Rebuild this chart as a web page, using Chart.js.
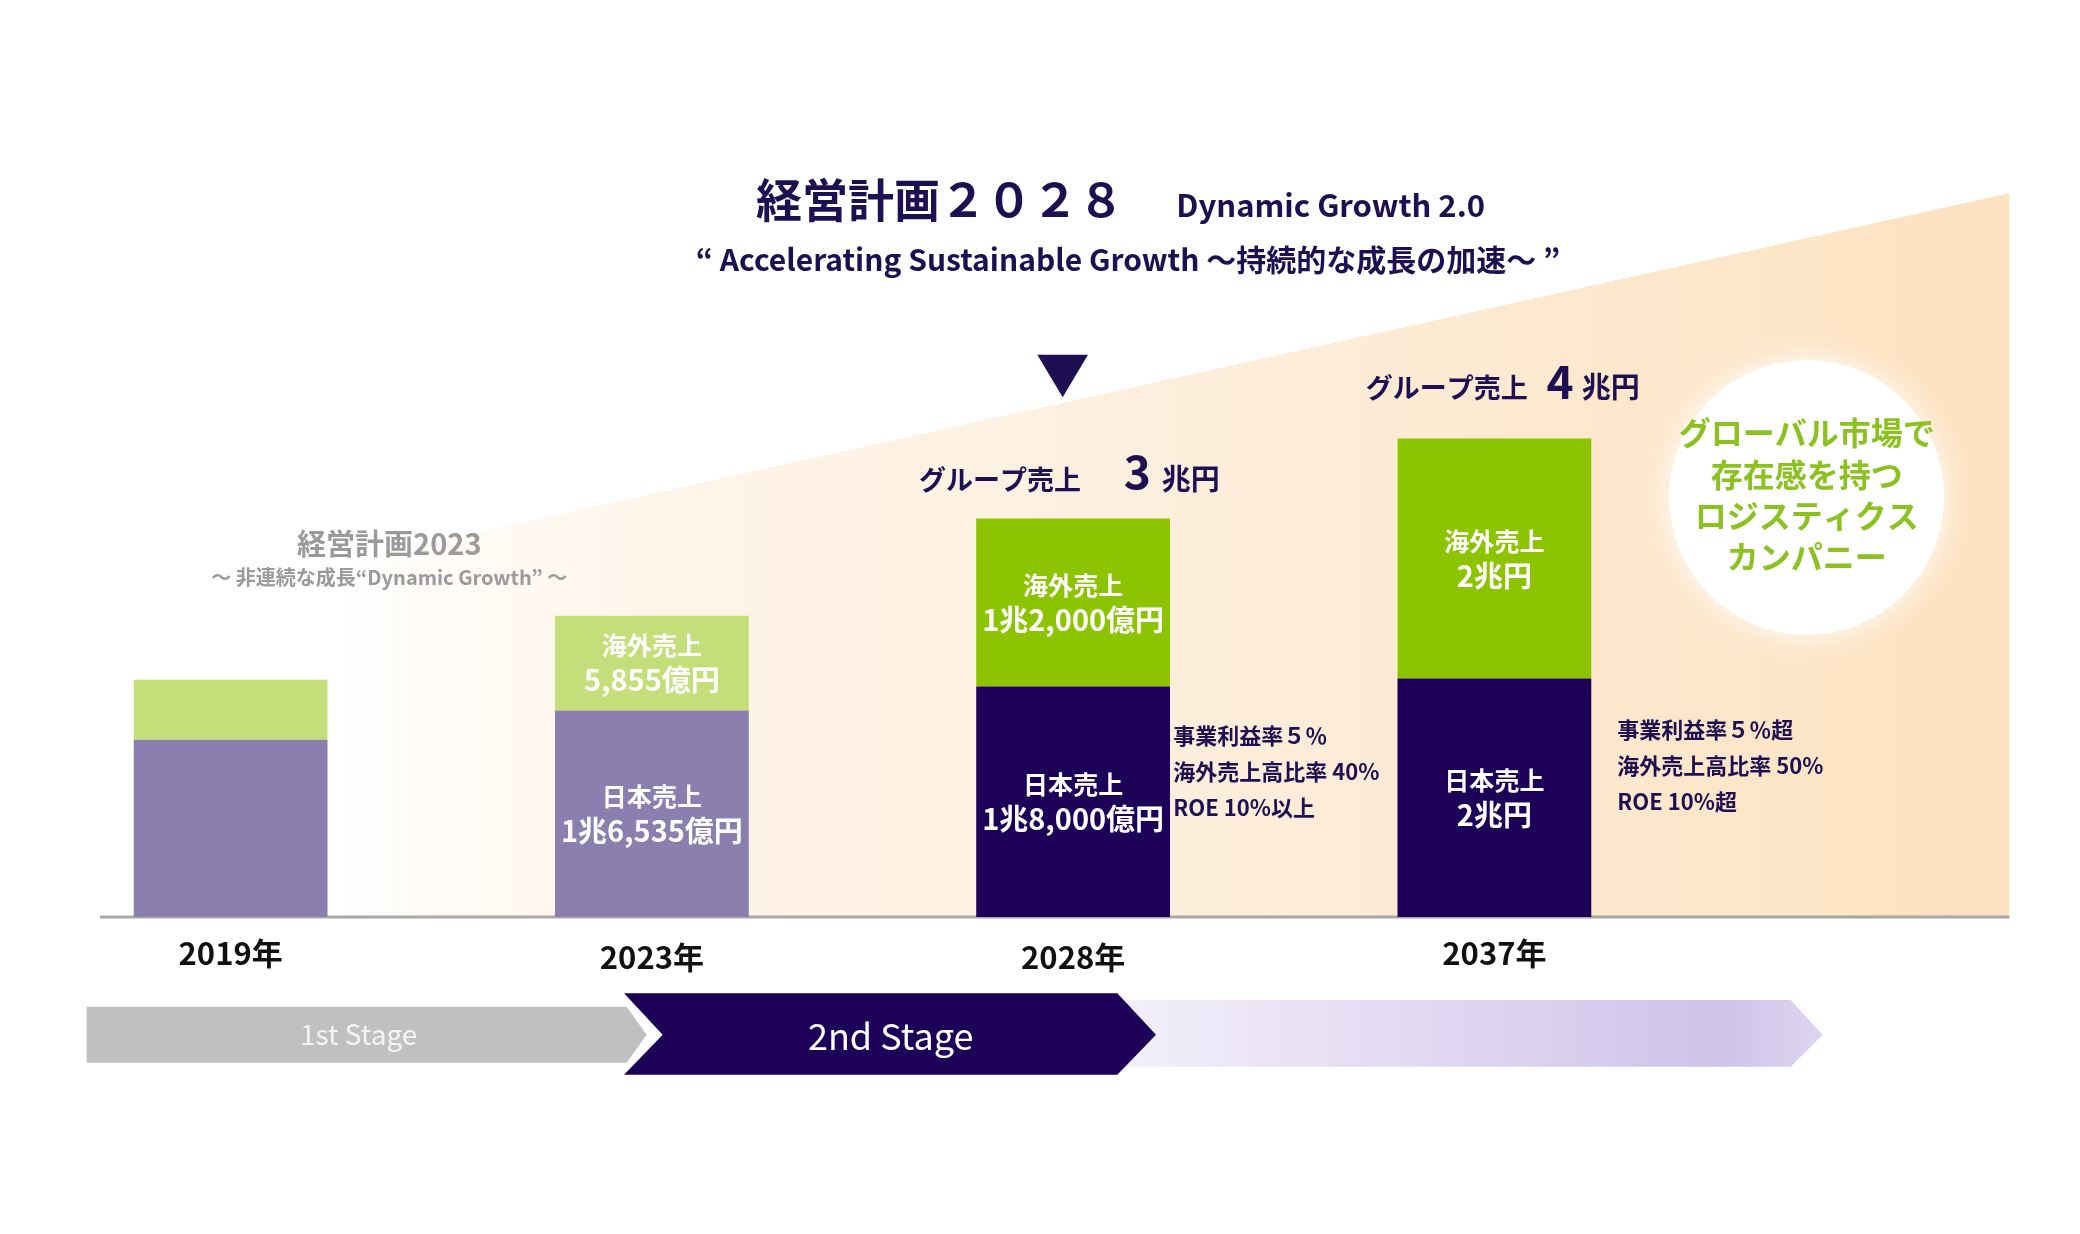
<!DOCTYPE html>
<html>
<head>
<meta charset="utf-8">
<script src="https://cdn.jsdelivr.net/npm/chart.js@4/dist/chart.umd.min.js"></script>
<style>
  body { margin: 0; background: #fff; }
  canvas { display: block; }
</style>
</head>
<body>
<canvas id="plan" width="2080" height="1234"></canvas>
<script>
// schematic bar heights (drawing units)
var years = ['2019年', '2023年', '2028年', '2037年'];
var japanHeights = [133, 155, 173, 179];
var overseasHeights = [45, 71, 126, 180];
var japanLabels = [[], ['日本売上', '1兆6,535億円'], ['日本売上', '1兆8,000億円'], ['日本売上', '2兆円']];
var overseasLabels = [[], ['海外売上', '5,855億円'], ['海外売上', '1兆2,000億円'], ['海外売上', '2兆円']];
var japanColors = ['#8a7fae', '#8a7fae', '#1d0058', '#1d0058'];
var overseasColors = ['#c4df79', '#c4df79', '#8cc402', '#8cc402'];

var K = 4 / 3; // reference drawn at 1560 wide, canvas is 2080
function p(v) { return v * K; }
var JP = '"Noto Sans CJK JP", "Noto Sans", sans-serif';

function txt(ctx, s, x, y, size, color, weight, align) {
    ctx.font = (weight || 'bold') + ' ' + size + 'px ' + JP;
    ctx.fillStyle = color;
    ctx.textAlign = align || 'center';
    ctx.textBaseline = 'middle';
    ctx.fillText(s, x, y);
}

var decor = {
    id: 'decor',
    beforeDatasetsDraw: function(chart) {
        var ctx = chart.ctx;
        ctx.save();
        // growth wedge
        var g = ctx.createLinearGradient(p(250), 0, p(1507), 0);
        g.addColorStop(0, 'rgba(253,229,198,0)');
        g.addColorStop(0.4, '#fdf1e2');
        g.addColorStop(1, '#fde2c0');
        ctx.fillStyle = g;
        ctx.beginPath();
        ctx.moveTo(p(75), p(462));
        ctx.lineTo(p(1507), p(145));
        ctx.lineTo(p(1507), p(688));
        ctx.lineTo(p(75), p(688));
        ctx.closePath();
        ctx.fill();
        // white circle
        ctx.shadowColor = 'rgba(255,255,255,1)';
        ctx.shadowBlur = 30;
        ctx.fillStyle = '#fff';
        ctx.beginPath();
        ctx.arc(p(1355), p(373), p(103), 0, Math.PI * 2);
        ctx.fill();
        ctx.shadowBlur = 0;
        // baseline
        ctx.strokeStyle = '#a8a8a8';
        ctx.lineWidth = 3;
        ctx.beginPath();
        ctx.moveTo(p(75), chart.chartArea.bottom);
        ctx.lineTo(p(1507), chart.chartArea.bottom);
        ctx.stroke();
        ctx.restore();
    },
    afterDatasetsDraw: function(chart) {
        var ctx = chart.ctx;
        ctx.save();
        var sets = [[0, japanLabels], [1, overseasLabels]];
        sets.forEach(function(s) {
            chart.getDatasetMeta(s[0]).data.forEach(function(bar, i) {
                var lines = s[1][i];
                var mid = (bar.y + bar.base) / 2;
                lines.forEach(function(l, j) {
                    txt(ctx, l, bar.x, mid + (j - (lines.length - 1) / 2) * p(26), j ? 29 : 25, '#fff');
                });
            });
        });
        // year labels
        chart.getDatasetMeta(0).data.forEach(function(bar, i) {
            txt(ctx, years[i], bar.x, p(715) + (i % 3 ? 4 : 0), 31, '#111');
        });
        // titles
        txt(ctx, '経営計画２０２８', p(705), p(150), 46, '#1d0f52');
        txt(ctx, 'Dynamic Growth 2.0', p(998), p(154), 31, '#1d0f52');
        txt(ctx, '“ Accelerating Sustainable Growth ～持続的な成長の加速～ ”', p(846), p(195), 30, '#1d0f52');
        txt(ctx, '経営計画2023', p(292), p(408), 29, '#9a9a9a');
        txt(ctx, '～ 非連続な成長“Dynamic Growth” ～', p(292), p(433), 20, '#9a9a9a');
        // marker
        ctx.fillStyle = '#1d0f52';
        ctx.beginPath();
        ctx.moveTo(p(778), p(266));
        ctx.lineTo(p(816), p(266));
        ctx.lineTo(p(797), p(298));
        ctx.closePath();
        ctx.fill();
        txt(ctx, 'グループ売上', p(750), p(360), 27, '#1d0f52');
        txt(ctx, '3', p(853), p(354), 46, '#1d0f52');
        txt(ctx, '兆円', p(893), p(359), 29, '#1d0f52');
        txt(ctx, 'グループ売上', p(1085), p(291), 27, '#1d0f52');
        txt(ctx, '4', p(1170), p(286), 46, '#1d0f52');
        txt(ctx, '兆円', p(1208), p(290), 29, '#1d0f52');
        ['事業利益率５％', '海外売上高比率 40%', 'ROE 10%以上'].forEach(function(l, j) {
            txt(ctx, l, p(880), p(552 + j * 27), 22, '#1d0f52', 'bold', 'left');
        });
        ['事業利益率５％超', '海外売上高比率 50%', 'ROE 10%超'].forEach(function(l, j) {
            txt(ctx, l, p(1213), p(547 + j * 27), 22, '#1d0f52', 'bold', 'left');
        });
        ['グローバル市場で', '存在感を持つ', 'ロジスティクス', 'カンパニー'].forEach(function(l, j) {
            txt(ctx, l, p(1355), p(325 + j * 31), 32, '#8cc21f');
        });
        // stage arrows
        ctx.fillStyle = '#c0c0c0';
        ctx.beginPath();
        ctx.moveTo(p(65), p(755)); ctx.lineTo(p(470), p(755)); ctx.lineTo(p(485), p(776));
        ctx.lineTo(p(470), p(797)); ctx.lineTo(p(65), p(797)); ctx.closePath(); ctx.fill();
        var g2 = ctx.createLinearGradient(p(845), 0, p(1367), 0);
        g2.addColorStop(0, '#f3effa');
        g2.addColorStop(0.85, '#cfc3ea');
        g2.addColorStop(1, '#ddd5f0');
        ctx.fillStyle = g2;
        ctx.beginPath();
        ctx.moveTo(p(840), p(750)); ctx.lineTo(p(1343), p(750)); ctx.lineTo(p(1367), p(776));
        ctx.lineTo(p(1343), p(800)); ctx.lineTo(p(840), p(800)); ctx.lineTo(p(860), p(776));
        ctx.closePath(); ctx.fill();
        ctx.fillStyle = '#1d0058';
        ctx.beginPath();
        ctx.moveTo(p(468), p(745)); ctx.lineTo(p(838), p(745)); ctx.lineTo(p(867), p(776));
        ctx.lineTo(p(838), p(806)); ctx.lineTo(p(468), p(806)); ctx.lineTo(p(497), p(776));
        ctx.closePath(); ctx.fill();
        txt(ctx, '1st Stage', p(269), p(776), 28, '#f4f4f4', 'normal');
        txt(ctx, '2nd Stage', p(668), p(777), 36, '#fff', 'normal');
        ctx.restore();
    }
};

var ctx = document.getElementById('plan').getContext('2d');
var chart = new Chart(ctx, {
    type: 'bar',
    data: {
        labels: years,
        datasets: [{
            label: '日本売上',
            data: japanHeights,
            backgroundColor: japanColors
        }, {
            label: '海外売上',
            data: overseasHeights,
            backgroundColor: overseasColors
        }]
    },
    options: {
        responsive: false,
        animation: false,
        layout: { padding: { left: 20, right: 375, top: 0, bottom: 317 } },
        datasets: { bar: { barPercentage: 0.92, categoryPercentage: 0.5 } },
        plugins: { legend: { display: false }, tooltip: { enabled: false } },
        scales: {
            x: { stacked: true, display: false },
            y: { stacked: true, display: false, min: 0, max: 688 }
        }
    },
    plugins: [decor]
});
</script>
</body>
</html>
